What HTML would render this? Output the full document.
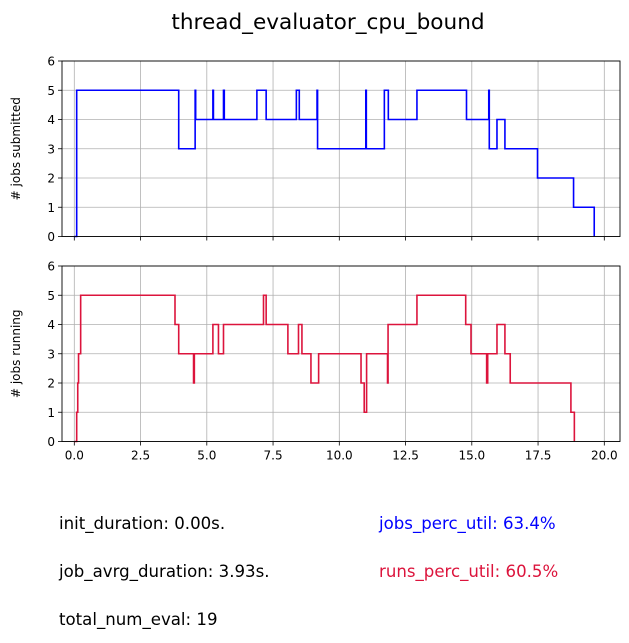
<!DOCTYPE html>
<html><head><meta charset="utf-8"><style>
html,body{margin:0;padding:0;background:#fff;}
svg text{font-family:"DejaVu Sans","Liberation Sans",sans-serif;}
</style></head><body>
<svg id="fig" width="629" height="638" xmlns="http://www.w3.org/2000/svg">
<rect width="629" height="638" fill="#fff"/>
<text x="328" y="29" font-size="21.6" text-anchor="middle">thread_evaluator_cpu_bound</text>
<g id="top"></g>
<g id="bot"></g>
<text x="59" y="529" font-size="16.6">init_duration: 0.00s.</text>
<text x="59" y="577" font-size="16.6">job_avrg_duration: 3.93s.</text>
<text x="59" y="625" font-size="16.6">total_num_eval: 19</text>
<text x="379" y="529" font-size="16.6" fill="#0000ff">jobs_perc_util: 63.4%</text>
<text x="379" y="577" font-size="16.6" fill="#dc143c">runs_perc_util: 60.5%</text>
</svg>
<script>
const xTicks = [0, 2.5, 5, 7.5, 10, 12.5, 15, 17.5, 20];
const xTickLabels = ["0.0","2.5","5.0","7.5","10.0","12.5","15.0","17.5","20.0"];
const yTicks = [0,1,2,3,4,5,6];
const submittedTimes = [0, 0.09, 3.94, 4.56, 4.58, 5.23, 5.25, 5.63, 5.66, 6.89, 7.24, 8.38, 8.49, 9.16, 9.18, 11.0, 11.02, 11.7, 11.85, 12.93, 14.8, 15.64, 15.66, 15.95, 16.25, 17.48, 18.84, 19.62];
const submittedValues = [0, 5, 3, 5, 4, 5, 4, 5, 4, 5, 4, 5, 4, 5, 3, 5, 3, 5, 4, 5, 4, 5, 3, 4, 3, 2, 1, 0];
const runningTimes = [0, 0.09, 0.13, 0.16, 0.24, 3.80, 3.94, 4.5, 4.53, 5.23, 5.44, 5.63, 7.14, 7.24, 8.06, 8.46, 8.59, 8.93, 9.22, 10.82, 10.94, 11.03, 11.82, 11.84, 12.93, 14.77, 14.97, 15.56, 15.6, 15.95, 16.25, 16.45, 18.74, 18.87];
const runningValues = [0, 1, 2, 3, 5, 4, 3, 2, 3, 4, 3, 4, 5, 4, 3, 4, 3, 2, 3, 2, 1, 3, 2, 4, 5, 4, 3, 2, 3, 4, 3, 2, 1, 0];

const NS = "http://www.w3.org/2000/svg";
const L = 62, R = 620;
const x = t => 74.3 + t * 26.5;
function mk(parent, tag, attrs) {
  const e = document.createElementNS(NS, tag);
  for (const k in attrs) e.setAttribute(k, attrs[k]);
  parent.appendChild(e);
  return e;
}
function panel(g, top, bottom, times, vals, color, ylabel, showX, prefix) {
  const y = v => bottom - v * (bottom - top) / 6;
  xTicks.forEach((t, i) => {
    const gl = mk(g, "line", {x1: x(t), x2: x(t), y1: top, y2: bottom, stroke: "#b0b0b0", "stroke-width": 0.8});
    
    
    const tk = mk(g, "line", {x1: x(t), x2: x(t), y1: bottom, y2: bottom + 4, stroke: "#000", "stroke-width": 0.8});
    
    
    if (showX) {
      const tl = mk(g, "text", {x: x(t), y: bottom + 18, "font-size": 12, "text-anchor": "middle"});
      tl.textContent = xTickLabels[i];
      
      
    }
  });
  yTicks.forEach(v => {
    const gl = mk(g, "line", {x1: L, x2: R, y1: y(v), y2: y(v), stroke: "#b0b0b0", "stroke-width": 0.8});
    
    
    const tk = mk(g, "line", {x1: L - 4, x2: L, y1: y(v), y2: y(v), stroke: "#000", "stroke-width": 0.8});
    
    
    const tl = mk(g, "text", {x: L - 7, y: y(v) + 4.5, "font-size": 12, "text-anchor": "end"});
    tl.textContent = v;
    
    
  });
  let d = "";
  times.forEach((t, i) => {
    if (i === 0) d += "M" + x(t) + "," + y(vals[i]);
    else d += "L" + x(t) + "," + y(vals[i - 1]) + "L" + x(t) + "," + y(vals[i]);
  });
  const p = mk(g, "path", {d: d, fill: "none", stroke: color, "stroke-width": 1.6});
  
  
  const fr = mk(g, "rect", {x: L, y: top, width: R - L, height: bottom - top, fill: "none", stroke: "#000", "stroke-width": 0.9});
  
  
  const yl = mk(g, "text", {x: 0, y: 0, "font-size": 12, "text-anchor": "middle", transform: "translate(20," + ((top + bottom) / 2) + ") rotate(-90)"});
  yl.textContent = ylabel;
  
  
}
panel(document.getElementById("top"), 61, 236.5, submittedTimes, submittedValues, "#0000ff", "# jobs submitted", false, "jobs-submitted");
panel(document.getElementById("bot"), 266, 441.5, runningTimes, runningValues, "#dc143c", "# jobs running", true, "jobs-running");
</script>
</body></html>
